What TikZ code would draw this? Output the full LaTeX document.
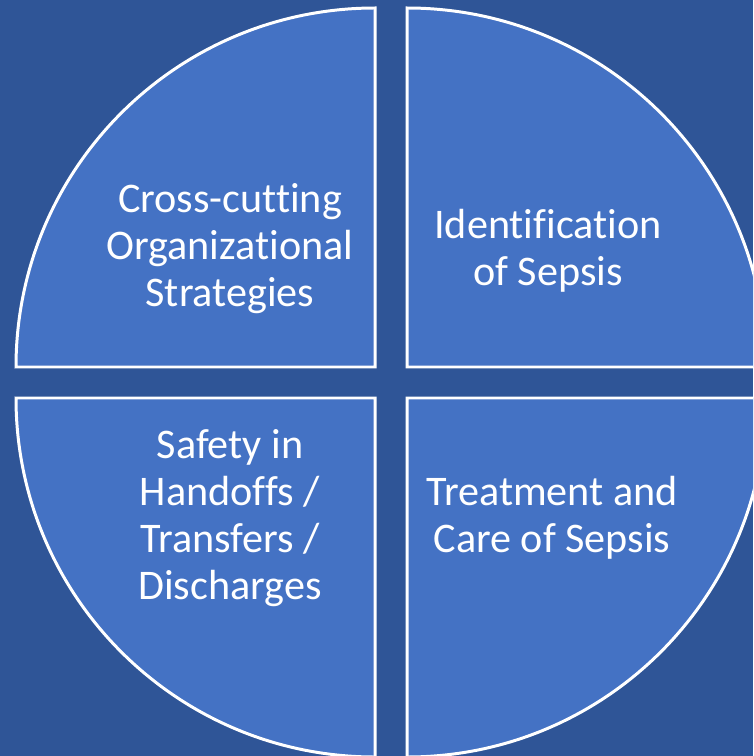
\documentclass[tikz,border=0pt]{standalone}
\usepackage{fontspec}
\setmainfont{Carlito}[Ligatures=NoCommon]
\definecolor{darkblue}{HTML}{2F5597}
\definecolor{midblue}{HTML}{4472C4}

\begin{document}
\begin{tikzpicture}[x=0.02cm,y=-0.02cm,
		quarter/.style={fill=midblue,draw=white,line width=1.7pt,line join=miter},
		caption/.style={text=white,align=center,inner sep=0pt,
			font=\fontsize{24}{26.7}\selectfont}]
	\useasboundingbox (0,0) rectangle (753,756);
	\fill[darkblue] (0,0) rectangle (753,756);
	\clip (0,0) rectangle (753,756);
	\path[quarter] (375,367) -- (16,367) arc[start angle=180,end angle=270,radius=359] -- cycle;
	\path[quarter] (407,367) -- (407,8) arc[start angle=270,end angle=360,radius=359] -- cycle;
	\path[quarter] (407,398) -- (766,398) arc[start angle=0,end angle=90,radius=359] -- cycle;
	\path[quarter] (375,398) -- (375,757) arc[start angle=90,end angle=180,radius=359] -- cycle;
	\node[caption] (cross) at (230,249) {Cross-cutting\\Organizational\\Strategies};
	\node[caption] (ident) at (548,251) {Identification\\of Sepsis};
	\node[caption] (safety) at (230,518) {Safety in\\Handoffs /\\Transfers /\\Discharges};
	\node[caption] (treat) at (552,518) {Treatment and\\Care of Sepsis};
\end{tikzpicture}
\end{document}
